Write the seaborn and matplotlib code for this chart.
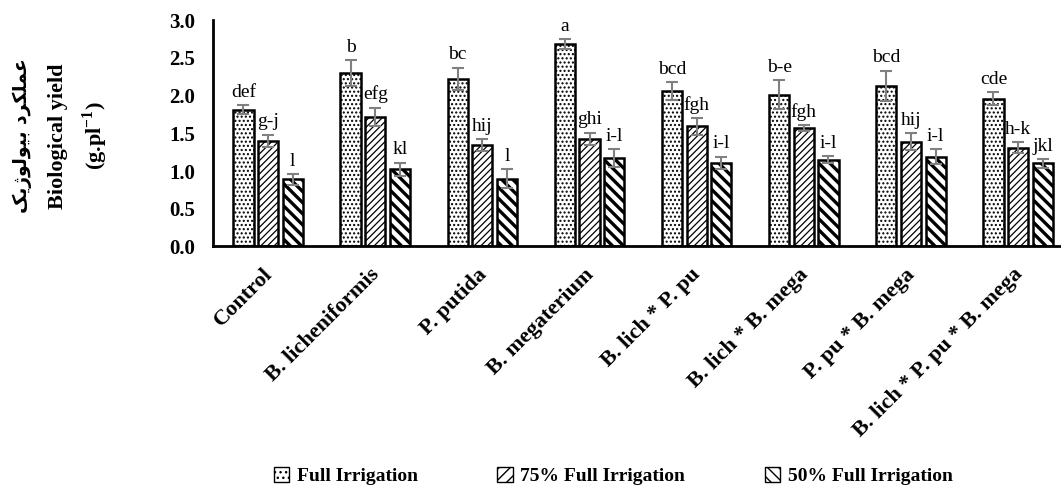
# -*- coding: utf-8 -*-
import numpy as np
import pandas as pd
import seaborn as sns
import matplotlib.pyplot as plt
from matplotlib.patches import Patch
from matplotlib.transforms import ScaledTranslation

# 数据
treatments = ['Control', 'B. licheniformis', 'P. putida', 'B. megaterium',
              'B. lich * P. pu', 'B. lich * B. mega', 'P. pu * B. mega',
              'B. lich * P. pu * B. mega']
irrigation = ['Full Irrigation', '75% Full Irrigation', '50% Full Irrigation']

full = [1.81, 2.30, 2.22, 2.68, 2.06, 2.01, 2.13, 1.96]
irr75 = [1.40, 1.72, 1.34, 1.43, 1.59, 1.57, 1.39, 1.31]
irr50 = [0.89, 1.02, 0.90, 1.17, 1.11, 1.15, 1.19, 1.10]

err_full = [0.06, 0.17, 0.15, 0.07, 0.12, 0.19, 0.20, 0.08]
err75 = [0.08, 0.12, 0.08, 0.08, 0.11, 0.04, 0.11, 0.07]
err50 = [0.07, 0.09, 0.12, 0.12, 0.08, 0.05, 0.10, 0.06]

let_full = ['def', 'b', 'bc', 'a', 'bcd', 'b-e', 'bcd', 'cde']
let75 = ['g-j', 'efg', 'hij', 'ghi', 'fgh', 'fgh', 'hij', 'h-k']
let50 = ['l', 'kl', 'l', 'i-l', 'i-l', 'i-l', 'i-l', 'jkl']

ylabel_fa = 'عملکرد بیولوژیک'


# 简单的波斯文字形处理 (matplotlib 不做连写)
forms = {
    'ع': ('\uFEC9', '\uFECA', '\uFECB', '\uFECC'),
    'م': ('\uFEE1', '\uFEE2', '\uFEE3', '\uFEE4'),
    'ل': ('\uFEDD', '\uFEDE', '\uFEDF', '\uFEE0'),
    'ک': ('\uFB8E', '\uFB8F', '\uFB90', '\uFB91'),
    'ب': ('\uFE8F', '\uFE90', '\uFE91', '\uFE92'),
    'ی': ('\uFBFC', '\uFBFD', '\uFBFE', '\uFBFF'),
    'ر': ('\uFEAD', '\uFEAE', None, None),
    'د': ('\uFEA9', '\uFEAA', None, None),
    'و': ('\uFEED', '\uFEEE', None, None),
    'ژ': ('\uFB8A', '\uFB8B', None, None),
}


def shape_fa(s):
    out = []
    for i, ch in enumerate(s):
        if ch not in forms:
            out.append(ch)
            continue
        prev = s[i - 1] if i > 0 else ' '
        nxt = s[i + 1] if i < len(s) - 1 else ' '
        pj = prev in forms and forms[prev][2] is not None
        nj = nxt in forms and forms[ch][2] is not None
        if pj and nj:
            out.append(forms[ch][3])
        elif pj:
            out.append(forms[ch][1])
        elif nj:
            out.append(forms[ch][2])
        else:
            out.append(forms[ch][0])
    return ''.join(out[::-1])


df = pd.DataFrame({
    'treatment': treatments * 3,
    'irrigation': np.repeat(irrigation, len(treatments)),
    'value': full + irr75 + irr50,
})

plt.rcParams['font.family'] = ['Liberation Serif', 'DejaVu Sans']
plt.rcParams['mathtext.fontset'] = 'custom'
plt.rcParams['mathtext.rm'] = 'Liberation Serif'
plt.rcParams['mathtext.bf'] = 'Liberation Serif:bold'
plt.rcParams['hatch.color'] = 'black'
plt.rcParams['hatch.linewidth'] = 1.0

fig = plt.figure(figsize=(10.61, 4.86), dpi=100)
ax = fig.add_axes([213 / 1061, 0.4928, 1 - 213 / 1061, 0.9588 - 0.4928])

sns.barplot(data=df, x='treatment', y='value', hue='irrigation',
            order=treatments, hue_order=irrigation, palette=['white'] * 3,
            width=0.69, gap=0.18, errorbar=None, legend=False, ax=ax)

hatches = ['....', '/////', '\\\\\\']
hatch_lw = [1.0, 0.9, 2.4]
errs = [err_full, err75, err50]
lets = [let_full, let75, let50]
vals = [full, irr75, irr50]

for cont, h, hl, e, lt, v in zip(ax.containers, hatches, hatch_lw, errs, lets, vals):
    xs = []
    for bar in cont:
        bar.set_facecolor('white')
        bar.set_edgecolor('black')
        bar.set_linewidth(1.8)
        bar.set_hatch(h)
        if hasattr(bar, 'set_hatch_linewidth'):
            bar.set_hatch_linewidth(hl)
        xs.append(bar.get_x() + bar.get_width() / 2)
    ax.errorbar(xs, v, yerr=e, fmt='none', ecolor='#808080',
                elinewidth=1.5, capsize=4, capthick=1.5, zorder=5)
    for x, y, err, t in zip(xs, v, e, lt):
        ax.annotate(t, (x, y + err), xytext=(0, 6), textcoords='offset points',
                    ha='center', va='baseline', fontsize=14)

ax.set_xlim(-0.514, 7.40)
ax.set_ylim(0, 3)
ax.set_yticks(np.arange(0, 3.01, 0.5))
ax.set_yticklabels(['%.1f' % t for t in np.arange(0, 3.01, 0.5)],
                   fontsize=15, fontweight='bold')
ax.set_xticks(range(len(treatments)))
ax.set_xticklabels(treatments, rotation=45, ha='right',
                   rotation_mode='anchor', fontsize=16, fontweight='bold')
ax.tick_params(axis='both', length=0)
ax.tick_params(axis='x', pad=13)
ax.tick_params(axis='y', pad=13)
# 标签整体左移几个像素
shift = ScaledTranslation(-6 / 100, 0, fig.dpi_scale_trans)
for lbl in ax.get_xticklabels():
    lbl.set_transform(lbl.get_transform() + shift)
ax.set_xlabel('')
ax.set_ylabel('')
for sp in ['top', 'right']:
    ax.spines[sp].set_visible(False)
for sp in ['left', 'bottom']:
    ax.spines[sp].set_linewidth(2)
    ax.spines[sp].set_color('black')

# 纵轴标题
fig.text(22 / 1061, 0.72, shape_fa(ylabel_fa), rotation=90, ha='center',
         va='center', fontsize=13.5, fontweight='bold', family=['DejaVu Sans'])
fig.text(58 / 1061, 0.72, 'Biological yield', rotation=90, ha='center',
         va='center', fontsize=16, fontweight='bold')
fig.text(95 / 1061, 0.72, r'(g.pl$^{\mathbf{-1}}$)', rotation=90, ha='center',
         va='center', fontsize=16, fontweight='bold')

# 图例
handles = [Patch(facecolor='white', edgecolor='black', hatch=h, linewidth=1)
           for h in ['...', '///', '\\\\\\']]
fig.legend(handles, irrigation, loc='center', bbox_to_anchor=(0.578, 0.02),
           ncol=3, frameon=False, handlelength=0.78, handleheight=0.78,
           handletextpad=0.4, columnspacing=4.1,
           prop={'family': 'Liberation Serif', 'weight': 'bold', 'size': 14})

plt.savefig('out.png', dpi=100)
